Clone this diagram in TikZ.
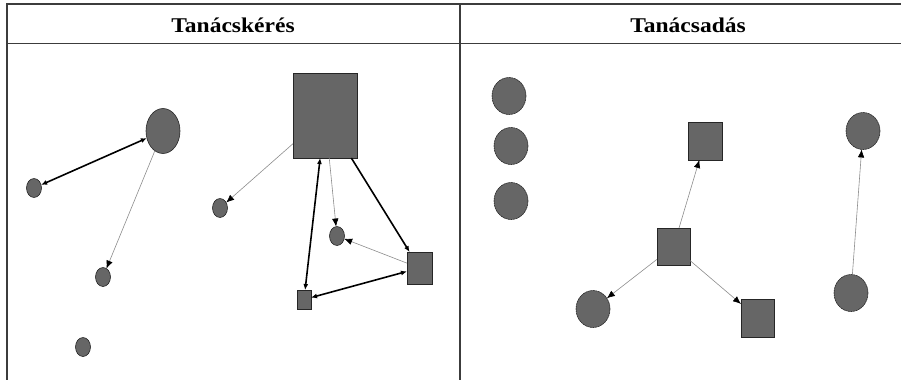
\documentclass[tikz,border=0pt]{standalone}
\usepackage{fontspec}
\newfontfamily\hdrfont[FakeStretch=1.12]{Liberation Serif}
\usetikzlibrary{shapes.geometric,arrows.meta}
\definecolor{ndfill}{RGB}{102,102,102}
\definecolor{rule}{RGB}{60,60,60}
\definecolor{thinln}{RGB}{140,140,140}
\begin{document}
\begin{tikzpicture}[x=1pt,y=-1pt,
  nd/.style={draw=black!85,fill=ndfill,line width=0.6pt,inner sep=0pt,outer sep=0pt},
  smc/.style={nd,ellipse,minimum width=15pt,minimum height=19pt},
  bigc/.style={nd,ellipse,minimum width=34pt,minimum height=45pt},
  dc/.style={nd,ellipse,dashed,dash pattern=on 2pt off 0.6pt,minimum width=34pt,minimum height=37pt},
  thk/.style={line width=1.6pt,black,{Latex[length=6pt,width=5pt]}-{Latex[length=6pt,width=5pt]}},
  thka/.style={line width=1.6pt,black,-{Latex[length=6pt,width=5pt]}},
  thn/.style={line width=0.6pt,thinln,-{Latex[length=8pt,width=6.5pt,black]}},
  hdr/.style={font=\hdrfont\bfseries\fontsize{21}{24}\selectfont,inner sep=0pt,anchor=base},
  tab/.style={draw=rule,line width=1.8pt}]
\useasboundingbox (0,0) rectangle (901,380);
% table rules
\draw[tab] (6,4) -- (901,4);
\draw[tab] (6,43.5) -- (901,43.5);
\draw[tab] (7,3) -- (7,380);
\draw[tab] (460,3) -- (460,380);
\node[hdr] (h1) at (233,32.5) {Tanácskérés};
\node[hdr] (h2) at (688,32.5) {Tanácsadás};
% left panel nodes
\node[bigc] (bc) at (163,131) {};
\node[smc] (c1) at (34,188) {};
\node[smc] (c2) at (103,277) {};
\node[smc] (c3) at (83,347) {};
\node[smc] (c4) at (220,208) {};
\node[smc] (c5) at (337,236) {};
\node[nd,minimum width=64pt,minimum height=85pt] (R) at (325,115.5) {};
\node[nd,minimum width=25pt,minimum height=32pt] (Q) at (419.5,268) {};
\node[nd,minimum width=14pt,minimum height=19pt] (S) at (304,299.5) {};
% left panel edges
\draw[thk] (c1) -- (bc);
\draw[thn] (bc) -- (c2);
\draw[thn] (R) -- (c4);
\draw[thk] (R) -- (S);
\draw[thn] (R) -- (c5);
\draw[thka] (R) -- (Q);
\draw[thn] (Q) -- (c5);
\draw[thk] (Q) -- (S);
% right panel nodes
\node[dc] (L1) at (509,96) {};
\node[dc] (L2) at (511,146) {};
\node[dc] (L3) at (511,201) {};
\node[nd,minimum width=34pt,minimum height=38pt] (T) at (705,141) {};
\node[nd,minimum width=33pt,minimum height=37pt] (C) at (673.5,246.5) {};
\node[dc] (B) at (593,309) {};
\node[nd,minimum width=33pt,minimum height=38pt] (D) at (757.5,318) {};
\node[dc] (E) at (863,131) {};
\node[dc] (F) at (851,293) {};
% right panel edges
\draw[thn] (C) -- (T);
\draw[thn] (C) -- (B);
\draw[thn] (C) -- (D);
\draw[thn] (F) -- (E);
\end{tikzpicture}
\end{document}
